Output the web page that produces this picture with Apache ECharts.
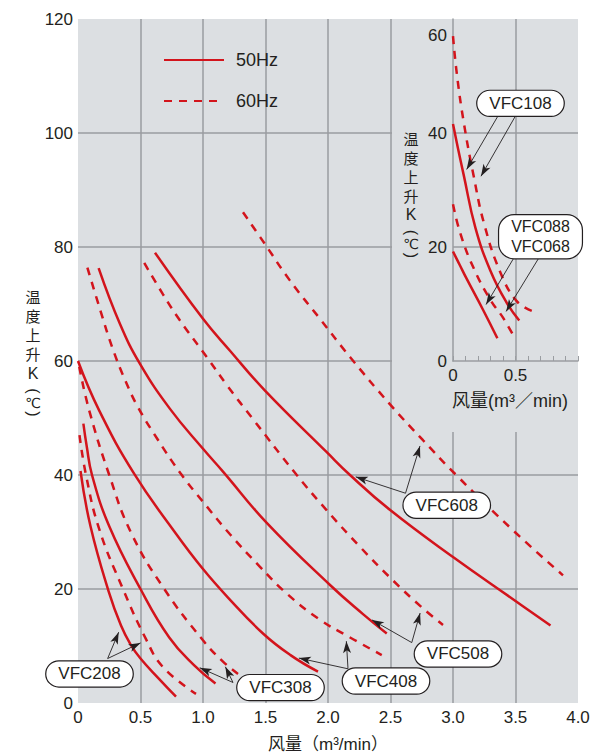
<!DOCTYPE html>
<html><head><meta charset="utf-8">
<script src="https://cdn.jsdelivr.net/npm/echarts@6.0.0/dist/echarts.min.js"></script>
<style>html,body{margin:0;padding:0;background:#fff}#c{width:594px;height:754px}</style>
</head><body><div id="c"></div>
<script>
// ---------------- data ----------------
const mainXTicks = ['0','0.5','1.0','1.5','2.0','2.5','3.0','3.5','4.0'];
const mainYTicks = ['0','20','40','60','80','100','120'];
const insetXTicks = ['0','0.5',''];
const insetYTicks = ['0','20','40','60'];
const legendNames = ['50Hz','60Hz'];

// main chart curves [airflow m3/min, temperature rise K]
const vfc208_50 = [[0.02,40.7],[0.1,31],[0.245,19.6],[0.344,13.6],[0.42,10.3],[0.5,7.8],[0.65,4.2],[0.784,1.1]];
const vfc208_60 = [[0.012,47],[0.064,40],[0.17,30.5],[0.36,20],[0.544,11.2],[0.68,6.3],[0.944,1.6]];
const vfc308_50 = [[0.043,49],[0.07,45],[0.112,40],[0.25,31],[0.5,20],[0.73,11.5],[0.93,6.6],[1.1,3.4]];
const vfc308_60 = [[0.01,59],[0.09,51.3],[0.25,40],[0.424,29.9],[0.69,20],[1.0,11],[1.158,7.3],[1.28,5.1]];
const vfc408_50 = [[0,60],[0.17,51.3],[0.45,40.2],[0.784,29.7],[1.0,23.5],[1.2,18.5],[1.48,12.2],[1.7,8.4],[1.92,5.5]];
const vfc408_60 = [[0.075,76.4],[0.18,68.8],[0.28,62],[0.38,56.5],[0.48,51.9],[0.63,46.5],[0.82,40.3],[1.0,35.3],[1.216,29.6],[1.456,23.9],[1.67,19.2],[1.936,14.6],[2.144,11.9],[2.43,8.4]];
const vfc508_50 = [[0.165,76.3],[0.336,66.5],[0.496,59.5],[0.736,51.6],[1.0,44.6],[1.16,40.6],[1.51,31.6],[2.016,20.7],[2.28,15.6],[2.47,12.2]];
const vfc508_60 = [[0.53,77.2],[0.68,71.7],[0.816,67.1],[1.03,60.7],[1.19,55.8],[1.4,49.8],[1.75,40],[1.99,33.8],[2.256,27.4],[2.52,21.5],[2.75,16.8],[2.92,13.7]];
const vfc608_50 = [[0.616,79],[1.0,67.4],[1.216,61.8],[1.496,54.8],[1.99,44],[2.176,40],[2.5,33.8],[3.0,25.6],[3.5,17.9],[3.78,13.6]];
const vfc608_60 = [[1.32,86.1],[1.496,80.5],[1.696,74.1],[1.936,67.4],[2.176,60.7],[2.5,52.3],[2.76,46.1],[3.03,39.9],[3.48,30.3],[3.88,22.4]];
// inset curves
const vfc108_50 = [[0,41.6],[0.04,37.3],[0.085,32.7],[0.18,23.3],[0.3,15.8],[0.43,10.2],[0.53,7.1]];
const vfc108_60 = [[0,57],[0.03,50.5],[0.085,42],[0.165,32.5],[0.25,24],[0.38,15.5],[0.51,10.5],[0.63,8.8]];
const vfc088_50 = [[0,19.2],[0.055,16.8],[0.11,14.4],[0.24,9],[0.355,4]];
const vfc088_60 = [[0,27.5],[0.06,22.3],[0.165,16.3],[0.3,10.7],[0.4,7.6],[0.5,3.8]];

// callout labels: text, box centre, arrow origins, arrow targets (data coords)
const calloutNames = ['VFC208','VFC308','VFC408','VFC508','VFC608','VFC108','VFC088\nVFC068'];
const calloutBoxes = [[0.092,5.1],[1.62,2.7],[2.464,3.85],[3.04,8.6],[2.95,34.7],[0.54,45.2],[0.70,21.8]];
const calloutFrom = [
  [[0.237,7.8],[0.237,7.8]], [[1.24,3.6],[1.24,3.6]], [[2.16,6.0],[2.16,6.0]],
  [[2.67,10.6],[2.67,10.6]], [[2.62,36.8],[2.62,36.8]], [[0.36,43],[0.50,43]], [[0.49,18.2],[0.69,18.2]]
];
const calloutTo = [
  [[0.344,13.4],[0.544,11.0]], [[0.93,6.6],[1.158,7.3]], [[1.72,8.1],[2.144,11.9]],
  [[2.31,15.1],[2.75,16.8]], [[2.176,40.0],[2.75,46.1]], [[0.085,32.7],[0.2,31.5]], [[0.24,9.0],[0.4,7.8]]
];

// axis title texts
const yTitleWords = ['温','度','上','升','K'];
const yTitleUnit = ['(', '℃', ')'];
const xTitleMain = '风量（m³/min）';
const xTitleInset = '风量(m³／min)';

// ---------------- style / layout ----------------
const FONT = "'Liberation Sans', Arial, Helvetica, 'Noto Sans CJK SC', sans-serif";
const CJK = "'Noto Sans CJK SC', sans-serif";
const RED = '#d3141c', INK = '#231f20', BG = '#dcdfe2', GRIDC = '#9a9da1';
const L = 78, T = 19, W = 500, H = 684;          // main plot
const XMAX = 4, YMAX = 120;
const pxX = W / XMAX, pxY = H / YMAX;             // px per data unit
const insetLeft = L + 3.0 * pxX, insetBottom = T + H - 60 * pxY;
const maskLeft = L + 2.5 * pxX + 1.5, maskBottom = insetBottom + 71;

function shorten(a, b, back) {
  const dx = (b[0]-a[0])*pxX, dy = (b[1]-a[1])*pxY, len = Math.hypot(dx, dy);
  const f = (len - back) / len;
  return [a[0] + (b[0]-a[0])*f, a[1] + (b[1]-a[1])*f];
}

const boxLabel = {
  show: true, position: 'inside', formatter: '{b}', color: INK, fontFamily: FONT, fontSize: 17, lineHeight: 20,
  backgroundColor: '#fff', borderColor: INK, borderWidth: 1.2, borderRadius: 13, padding: [3, 12, 2, 12]
};

function callout(i) {
  const lines = calloutFrom[i].map((f, j) => {
    const t = shorten(f, calloutTo[i][j], 6);
    return [{coord: f}, {coord: t}];
  });
  const multi = calloutNames[i].indexOf('\n') >= 0;
  return {
    markLine: {
      silent: true, animation: false, symbol: ['none', 'arrow'], symbolSize: [6, 12],
      label: {show: false}, emphasis: {disabled: true},
      lineStyle: {color: INK, width: 0.9, type: 'solid'}, data: lines
    },
    markPoint: {
      silent: true, animation: false, symbol: 'rect', symbolSize: 1, itemStyle: {color: 'rgba(0,0,0,0)'},
      label: Object.assign({}, boxLabel, multi ? {fontSize: 16, lineHeight: 20, borderRadius: 15, padding: [2, 12, 1, 12]} : {}),
      data: [{name: calloutNames[i], coord: calloutBoxes[i]}]
    }
  };
}

function curve(name, data, dashed, idx, extra) {
  return Object.assign({
    type: 'line', name, data, xAxisIndex: idx, yAxisIndex: idx, smooth: 0.45,
    symbol: 'none', showSymbol: false, silent: true, animation: false, z: 2, clip: false,
    lineStyle: {color: RED, width: 2.5, type: dashed ? [8, 7] : 'solid', cap: 'butt'},
    itemStyle: {color: RED}
  }, extra || {});
}

const series = [
  curve('50Hz', vfc208_50, false, 0, callout(0)),
  curve('60Hz', vfc208_60, true, 0),
  curve('50Hz', vfc308_50, false, 0, callout(1)),
  curve('60Hz', vfc308_60, true, 0),
  curve('50Hz', vfc408_50, false, 0, callout(2)),
  curve('60Hz', vfc408_60, true, 0),
  curve('50Hz', vfc508_50, false, 0, callout(3)),
  curve('60Hz', vfc508_60, true, 0),
  curve('50Hz', vfc608_50, false, 0, callout(4)),
  curve('60Hz', vfc608_60, true, 0),
  curve('50Hz', vfc108_50, false, 1, callout(5)),
  curve('60Hz', vfc108_60, true, 1),
  curve('50Hz', vfc088_50, false, 1, callout(6)),
  curve('60Hz', vfc088_60, true, 1)
];

const labelStyle = {color: INK, fontFamily: FONT, fontSize: 17};
const gridLine = {show: true, showMinLine: false, showMaxLine: false, lineStyle: {color: GRIDC, width: 1.5}};

// vertical y-axis title: stacked characters, rotated brackets around ℃
function yTitle(x, top) {
  const rich = {
    c: {fontFamily: CJK, fontSize: 15, lineHeight: 19, fill: INK, align: 'center'},
    k: {fontFamily: FONT, fontSize: 16, lineHeight: 20, fill: INK, align: 'center'}
  };
  const txt = yTitleWords.map(w => (/[A-Za-z]/.test(w) ? '{k|' : '{c|') + w + '}').join('\n');
  const unitTop = top + 19 * (yTitleWords.length - 1) + 20;
  return [
    {type: 'text', silent: true, z: 5, x: x, y: top,
     style: {text: txt, rich: rich, align: 'center', verticalAlign: 'top'}},
    {type: 'text', silent: true, z: 5, x: x, y: unitTop + 8, rotation: -Math.PI / 2,
     style: {text: yTitleUnit[0], font: "16px 'Liberation Sans', sans-serif", fill: INK, align: 'center', verticalAlign: 'middle'}},
    {type: 'text', silent: true, z: 5, x: x, y: unitTop + 19.5,
     style: {text: yTitleUnit[1], font: "14px 'DejaVu Sans', 'Noto Sans CJK SC', sans-serif", fill: INK, align: 'center', verticalAlign: 'middle'}},
    {type: 'text', silent: true, z: 5, x: x, y: unitTop + 31, rotation: -Math.PI / 2,
     style: {text: yTitleUnit[2], font: "16px 'Liberation Sans', sans-serif", fill: INK, align: 'center', verticalAlign: 'middle'}}
  ];
}

const option = {
  animation: false,
  backgroundColor: '#fff',
  grid: [
    {left: L, top: T, width: W, height: H, show: true, backgroundColor: BG, borderWidth: 0, z: 0},
    {left: insetLeft, top: T, width: W / 4, height: insetBottom - T, show: false, z: 1}
  ],
  xAxis: [
    {gridIndex: 0, type: 'value', min: 0, max: XMAX, interval: 0.5,
     axisLine: {show: false}, axisTick: {show: false}, splitLine: gridLine,
     axisLabel: Object.assign({margin: 6, showMinLabel: true, showMaxLabel: true,
       formatter: v => mainXTicks[Math.round(v / 0.5)]}, labelStyle)},
    {gridIndex: 1, type: 'value', min: 0, max: 1, interval: 0.5, z: 1.5,
     axisLine: {show: true, onZero: false, lineStyle: {color: GRIDC, width: 1.5}},
     axisTick: {show: true, inside: true, length: 5, lineStyle: {color: GRIDC, width: 1}},
     minorTick: {show: true, splitNumber: 5, length: 5, lineStyle: {color: GRIDC, width: 1}},
     splitLine: gridLine,
     axisLabel: Object.assign({margin: 6, showMinLabel: true, showMaxLabel: true,
       formatter: v => insetXTicks[Math.round(v / 0.5)]}, labelStyle)}
  ],
  yAxis: [
    {gridIndex: 0, type: 'value', min: 0, max: YMAX, interval: 20,
     axisLine: {show: false}, axisTick: {show: false}, splitLine: gridLine,
     axisLabel: Object.assign({margin: 5, showMinLabel: true, showMaxLabel: true,
       formatter: v => mainYTicks[Math.round(v / 20)]}, labelStyle)},
    {gridIndex: 1, type: 'value', min: 0, max: 60, interval: 20, z: 1.5,
     axisLine: {show: true, onZero: false, lineStyle: {color: GRIDC, width: 1.5}},
     axisTick: {show: false}, splitLine: gridLine,
     axisLabel: Object.assign({margin: 6, showMinLabel: true, showMaxLabel: true,
       formatter: v => { const s = insetYTicks[Math.round(v / 20)]; return v === 60 ? '{t|' + s + '}' : s; },
       rich: {t: {padding: [33, 0, 0, 0], fontSize: 17, fontFamily: FONT, color: INK}}}, labelStyle)}
  ],
  legend: {
    show: true, orient: 'vertical', left: 158, top: 46, itemWidth: 60, itemHeight: 14, itemGap: 23,
    data: legendNames, selectedMode: false, itemStyle: {opacity: 0},
    textStyle: {color: INK, fontFamily: FONT, fontSize: 18, padding: [0, 0, 0, 7]}
  },
  graphic: [
    {type: 'rect', z: 1, silent: true,
     shape: {x: maskLeft, y: T, width: L + W - maskLeft, height: maskBottom - T}, style: {fill: BG}}
  ].concat(yTitle(33, 287), yTitle(411, 128.5), [
    {type: 'text', silent: true, z: 5, x: L + W / 2, y: 744,
     style: {text: xTitleMain, font: "17px 'Liberation Sans', 'Noto Sans CJK SC', sans-serif", fill: INK, align: 'center', verticalAlign: 'middle'}},
    {type: 'text', silent: true, z: 5, x: 510, y: 401,
     style: {text: xTitleInset, font: "18px 'Liberation Sans', 'Noto Sans CJK SC', sans-serif", fill: INK, align: 'center', verticalAlign: 'middle'}}
  ]),
  series
};

const chart = echarts.init(document.getElementById('c'), null, {renderer: 'svg', width: 594, height: 754});
chart.setOption(option);
</script>
</body></html>
